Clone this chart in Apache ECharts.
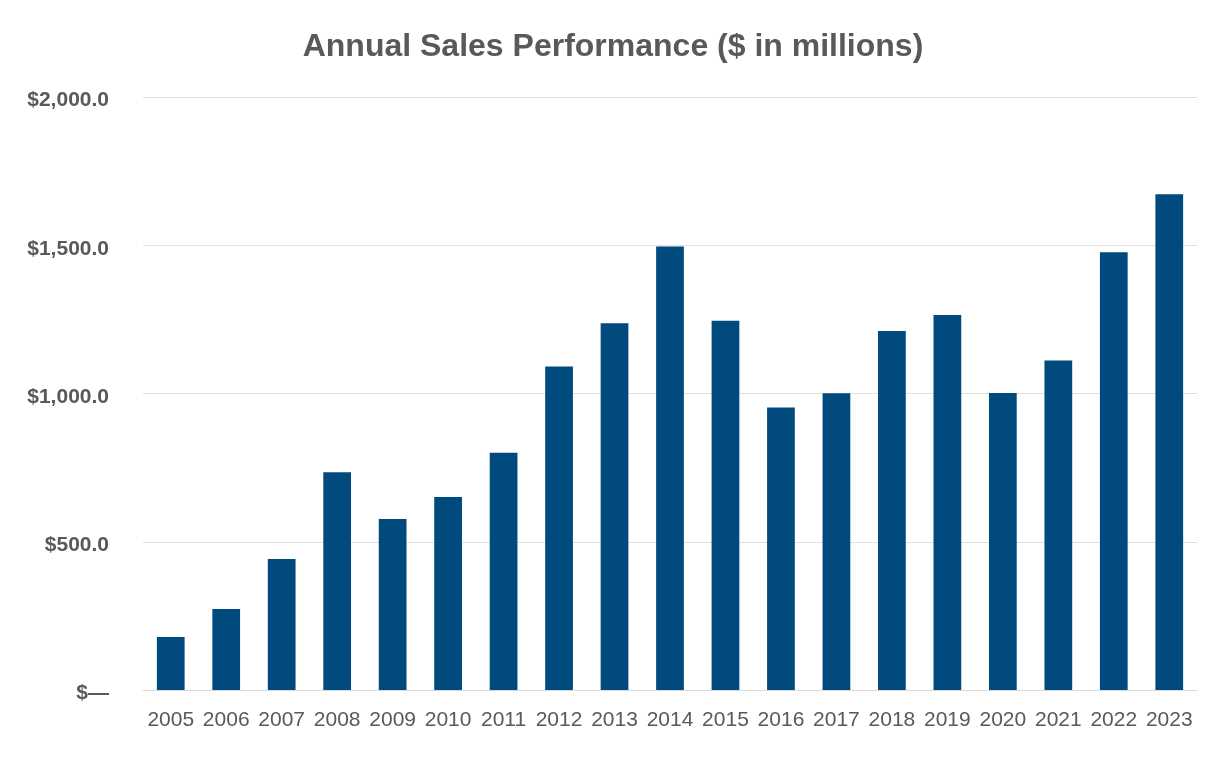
<!DOCTYPE html>
<html>
<head>
<meta charset="utf-8">
<script src="https://cdn.jsdelivr.net/npm/echarts@6/dist/echarts.min.js"></script>
<style>html,body{margin:0;padding:0;background:#fff;}#chart{width:1226px;height:760px;}</style>
</head>
<body>
<div id="chart"></div>
<script>
const titleText = 'Annual Sales Performance ($ in millions)';
const years = ['2005','2006','2007','2008','2009','2010','2011','2012','2013','2014','2015','2016','2017','2018','2019','2020','2021','2022','2023'];
const sales = [179, 273, 442, 734, 577, 651, 800, 1091, 1237, 1496, 1245, 953, 1001, 1211, 1265, 1002, 1111, 1476, 1672];
const yTicks = [0, 500, 1000, 1500, 2000];

function fmtMoney(v) {
  if (v === 0) return '{a|$\u2014}';
  return '{a|$' + v.toLocaleString('en-US', {minimumFractionDigits: 1, maximumFractionDigits: 1}) + '}';
}

const chart = echarts.init(document.getElementById('chart'), null, {renderer: 'canvas'});
chart.setOption({
  animation: false,
  backgroundColor: '#ffffff',
  title: {
    text: titleText,
    left: 'center',
    top: 26,
    textStyle: {fontFamily: 'Liberation Sans, Arial, sans-serif', fontSize: 32, fontWeight: 'bold', color: '#595959'}
  },
  grid: {left: 143, right: 29, top: 97, bottom: 70},
  xAxis: {
    type: 'category',
    data: years,
    axisLine: {show: true, lineStyle: {color: '#d9d9d9', width: 1}},
    axisTick: {show: false},
    axisLabel: {interval: 0, fontFamily: 'Liberation Sans, Arial, sans-serif', fontSize: 21, color: '#595959', margin: 20}
  },
  yAxis: {
    type: 'value',
    min: yTicks[0],
    max: yTicks[yTicks.length - 1],
    interval: yTicks[1] - yTicks[0],
    axisLine: {show: false},
    axisTick: {show: false},
    splitLine: {lineStyle: {color: '#e0e0e0', width: 1}},
    axisLabel: {
      margin: 34,
      formatter: fmtMoney,
      rich: {
        a: {fontFamily: 'Liberation Sans, Arial, sans-serif', fontSize: 21, fontWeight: 'bold', color: '#595959', padding: [7, 0, 0, 0]}
      }
    }
  },
  series: [{
    type: 'bar',
    data: sales,
    barWidth: '50%',
    itemStyle: {color: '#004A7E'}
  }]
});
</script>
</body>
</html>
